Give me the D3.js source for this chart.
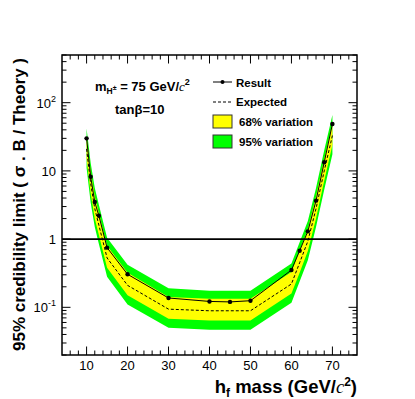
<!DOCTYPE html>
<html>
<head>
<meta charset="utf-8">
<script src="https://cdn.jsdelivr.net/npm/d3@7"></script>
<style>
  body { margin: 0; background: #fff; }
  text { font-family: "Liberation Sans", Arial, Helvetica, sans-serif; }
</style>
</head>
<body>
<svg id="chart" width="415" height="399"></svg>
<script>
// data
const masses   = [10, 11, 12, 13, 15, 20, 30, 40, 45, 50, 60, 62, 64, 66, 68, 70];
const result   = [30, 8.2, 3.5, 2.2, 0.75, 0.305, 0.137, 0.122, 0.12, 0.125, 0.352, 0.676, 1.3, 3.66, 13.4, 48.7];
const expected = [21, 6.5, 2.8, 1.6, 0.53, 0.21, 0.094, 0.089, 0.089, 0.089, 0.22, 0.45, 0.93, 2.8, 10, 33];
const band68lo = [15, 4.7, 2.0, 1.15, 0.38, 0.15, 0.068, 0.064, 0.064, 0.064, 0.16, 0.32, 0.67, 2.0, 7.2, 24];
const band68hi = [32, 9.8, 4.2, 2.4, 0.8, 0.32, 0.142, 0.133, 0.133, 0.133, 0.33, 0.68, 1.4, 4.2, 15, 50];
const band95lo = [11, 3.4, 1.5, 0.85, 0.28, 0.11, 0.05, 0.047, 0.047, 0.047, 0.117, 0.24, 0.49, 1.5, 5.3, 17.5];
const band95hi = [42, 13, 5.6, 3.2, 1.05, 0.42, 0.19, 0.175, 0.175, 0.175, 0.44, 0.9, 1.85, 5.6, 20, 66];

const xTickLabels = [10, 20, 30, 40, 50, 60, 70];
const yTickLabels = [0.1, 1, 10, 100];

const pLeft = 62, pRight = 357, pTop = 55, pBottom = 355;

const svg = d3.select("#chart");

const x = d3.scaleLinear().domain([4, 76]).range([pLeft, pRight]);
const y = d3.scaleLog().domain([0.02, 500]).range([pBottom, pTop]);

// bands
const rows = masses.map((m, i) => ({
  m: m, r: result[i], e: expected[i],
  lo68: band68lo[i], hi68: band68hi[i], lo95: band95lo[i], hi95: band95hi[i]
}));

svg.append("path")
  .datum(rows)
  .attr("fill", "#00ff00")
  .attr("d", d3.area().x(d => x(d.m)).y0(d => y(d.lo95)).y1(d => y(d.hi95)));

svg.append("path")
  .datum(rows)
  .attr("fill", "#ffff00")
  .attr("d", d3.area().x(d => x(d.m)).y0(d => y(d.lo68)).y1(d => y(d.hi68)));

// expected (dashed)
svg.append("path")
  .datum(rows)
  .attr("fill", "none")
  .attr("stroke", "#000")
  .attr("stroke-width", 1)
  .attr("stroke-dasharray", "3,2")
  .attr("d", d3.line().x(d => x(d.m)).y(d => y(d.e)));

// observed result
svg.append("path")
  .datum(rows)
  .attr("fill", "none")
  .attr("stroke", "#000")
  .attr("stroke-width", 1)
  .attr("d", d3.line().x(d => x(d.m)).y(d => y(d.r)));

svg.selectAll("circle.pt")
  .data(rows)
  .enter()
  .append("circle")
  .attr("class", "pt")
  .attr("cx", d => x(d.m))
  .attr("cy", d => y(d.r))
  .attr("r", 2.2)
  .attr("fill", "#000");

// line at 1
svg.append("line")
  .attr("x1", pLeft).attr("x2", pRight)
  .attr("y1", y(1)).attr("y2", y(1))
  .attr("stroke", "#000")
  .attr("stroke-width", 1.6);

// frame
svg.append("rect")
  .attr("x", pLeft).attr("y", pTop)
  .attr("width", pRight - pLeft).attr("height", pBottom - pTop)
  .attr("fill", "none")
  .attr("stroke", "#000")
  .attr("stroke-width", 1.5);

// x ticks (bottom and top, inward)
const xMinor = d3.range(6, 76, 2);
const ticks = svg.append("g").attr("stroke", "#000").attr("stroke-width", 1);
xMinor.forEach(v => {
  const len = (v % 10 === 0) ? 8.5 : 4.5;
  ticks.append("line").attr("x1", x(v)).attr("x2", x(v)).attr("y1", pBottom).attr("y2", pBottom - len);
  ticks.append("line").attr("x1", x(v)).attr("x2", x(v)).attr("y1", pTop).attr("y2", pTop + len);
});

// y ticks (left and right, inward)
y.ticks().forEach(v => {
  const lg = Math.log10(v);
  const major = Math.abs(lg - Math.round(lg)) < 1e-9;
  const len = major ? 8.5 : 4.5;
  ticks.append("line").attr("x1", pLeft).attr("x2", pLeft + len).attr("y1", y(v)).attr("y2", y(v));
  ticks.append("line").attr("x1", pRight).attr("x2", pRight - len).attr("y1", y(v)).attr("y2", y(v));
});

// x tick labels
svg.selectAll("text.xl")
  .data(xTickLabels)
  .enter()
  .append("text")
  .attr("class", "xl")
  .attr("x", d => x(d))
  .attr("y", 370)
  .attr("text-anchor", "middle")
  .attr("font-size", 13)
  .text(d => d);

// y tick labels
yTickLabels.forEach(v => {
  const t = svg.append("text")
    .attr("x", 56)
    .attr("y", y(v) + 5)
    .attr("text-anchor", "end")
    .attr("font-size", 13);
  if (v === 1 || v === 10) {
    t.text(v);
  } else {
    const exp = Math.round(Math.log10(v));
    t.append("tspan").text("10");
    t.append("tspan").attr("dy", -6).attr("font-size", 9).text(exp);
  }
});

// y axis title
svg.append("text")
  .attr("transform", "translate(25," + 58 + ") rotate(-90)")
  .attr("text-anchor", "end")
  .attr("font-size", 16)
  .attr("font-weight", "bold")
  .attr("textLength", 293)
  .attr("lengthAdjust", "spacingAndGlyphs")
  .text("95% credibility limit ( σ . B / Theory )");

// x axis title
const xt = svg.append("text")
  .attr("x", 357)
  .attr("y", 393)
  .attr("text-anchor", "end")
  .attr("font-size", 18.5)
  .attr("font-weight", "bold");
xt.append("tspan").text("h");
xt.append("tspan").attr("dy", 4).attr("font-size", 12).text("f");
xt.append("tspan").attr("dy", -4).text(" mass (GeV/");
xt.append("tspan").attr("font-family", "Liberation Serif, serif").attr("font-style", "italic").attr("font-weight", "normal").text("c");
xt.append("tspan").attr("dy", -7).attr("font-size", 12).text("2");
xt.append("tspan").attr("dy", 7).text(")");

// annotation
const ann = svg.append("text")
  .attr("x", 95).attr("y", 91)
  .attr("font-size", 13)
  .attr("font-weight", "bold");
ann.append("tspan").text("m");
ann.append("tspan").attr("dy", 3).attr("font-size", 8.5).text("H");
ann.append("tspan").attr("dy", -4).attr("font-size", 7).text("±");
ann.append("tspan").attr("dy", 1).text(" = 75 GeV/");
ann.append("tspan").attr("font-family", "Liberation Serif, serif").attr("font-style", "italic").attr("font-weight", "normal").text("c");
ann.append("tspan").attr("dy", -6).attr("font-size", 9).text("2");

svg.append("text")
  .attr("x", 115).attr("y", 114)
  .attr("font-size", 13)
  .attr("font-weight", "bold")
  .text("tanβ=10");

// legend
const lg = svg.append("g");
lg.append("line").attr("x1", 213).attr("x2", 232).attr("y1", 82).attr("y2", 82).attr("stroke", "#000");
lg.append("circle").attr("cx", 222.5).attr("cy", 82).attr("r", 2).attr("fill", "#000");
lg.append("text").attr("x", 236).attr("y", 86.5).attr("font-size", 11.5).attr("font-weight", "bold").text("Result");
lg.append("line").attr("x1", 213).attr("x2", 232).attr("y1", 102).attr("y2", 102)
  .attr("stroke", "#000").attr("stroke-dasharray", "3,2");
lg.append("text").attr("x", 236).attr("y", 106).attr("font-size", 11.5).attr("font-weight", "bold").text("Expected");
lg.append("rect").attr("x", 213).attr("y", 115).attr("width", 19).attr("height", 13)
  .attr("fill", "#ffff00").attr("stroke", "#333").attr("stroke-width", 1);
lg.append("text").attr("x", 239).attr("y", 126).attr("font-size", 11.5).attr("font-weight", "bold").text("68% variation");
lg.append("rect").attr("x", 213).attr("y", 135).attr("width", 19).attr("height", 13)
  .attr("fill", "#00ff00").attr("stroke", "#333").attr("stroke-width", 1);
lg.append("text").attr("x", 239).attr("y", 146).attr("font-size", 11.5).attr("font-weight", "bold").text("95% variation");
</script>
</body>
</html>
